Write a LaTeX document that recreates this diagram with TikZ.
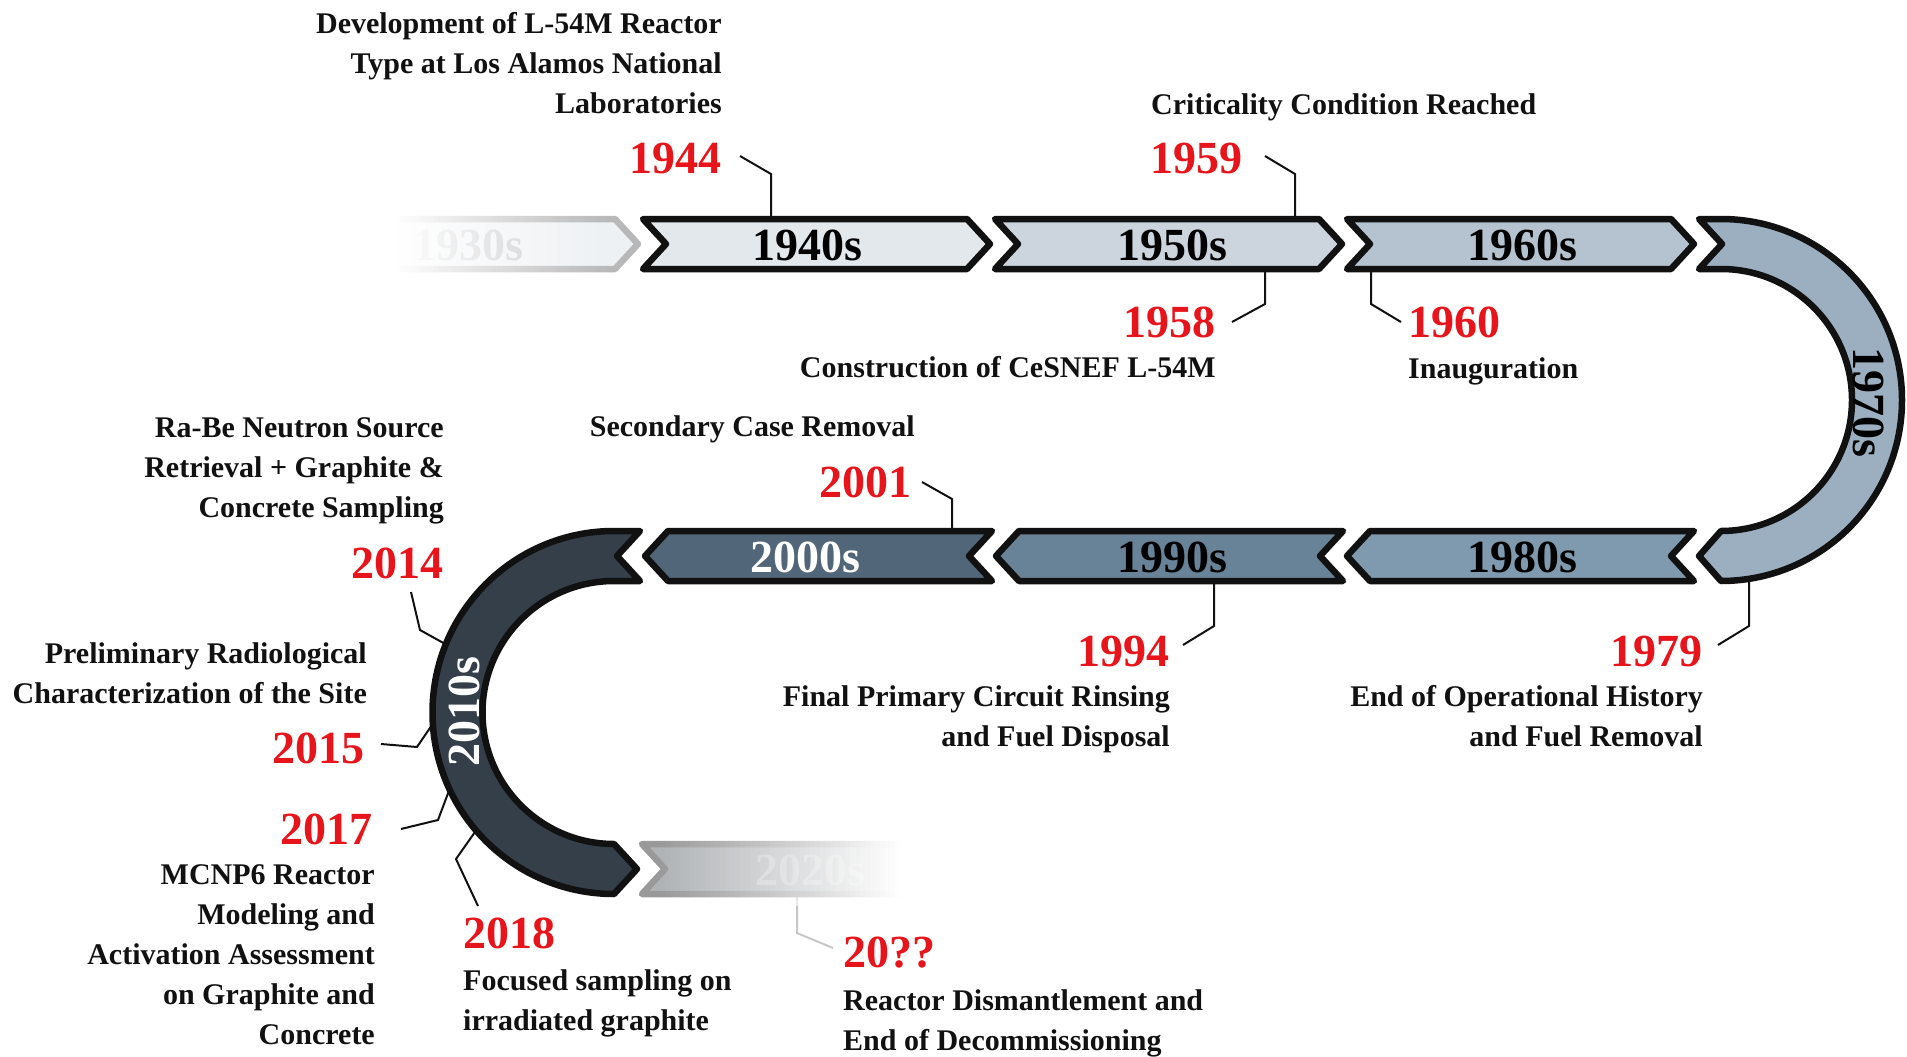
\documentclass[tikz,border=0pt]{standalone}
\usepackage{fontspec}
\setmainfont{Liberation Serif}
\definecolor{c30}{HTML}{EEF1F4}
\definecolor{c40}{HTML}{E3E8EC}
\definecolor{c50}{HTML}{CCD5DE}
\definecolor{c60}{HTML}{B4C3CF}
\definecolor{c70}{HTML}{9BAFC0}
\definecolor{c80}{HTML}{7F99AE}
\definecolor{c90}{HTML}{688398}
\definecolor{c00}{HTML}{516779}
\definecolor{c10}{HTML}{343F49}
\definecolor{c20}{HTML}{B0B3B6}
\definecolor{yr}{HTML}{E8141C}
\definecolor{ink}{HTML}{111111}
\newcommand\rchev[2]{({#1},{#2-25}) -- ({#1+324},{#2-25}) -- ({#1+347},{#2}) -- ({#1+324},{#2+25}) -- ({#1},{#2+25}) -- ({#1+23},{#2}) -- cycle}
\newcommand\lchev[2]{({#1},{#2}) -- ({#1+23},{#2-25}) -- ({#1+347},{#2-25}) -- ({#1+324},{#2}) -- ({#1+347},{#2+25}) -- ({#1+23},{#2+25}) -- cycle}
\tikzset{
  band/.style={draw=ink, line width=6.5pt, line join=round},
  lbl/.style={font=\fontsize{46}{46}\selectfont\bfseries, inner sep=0pt, anchor=base},
  yrs/.style={font=\fontsize{46}{46}\selectfont\bfseries, text=yr, inner sep=0pt},
  desc/.style={font=\fontsize{30}{40}\selectfont\bfseries, inner sep=0pt, text=ink},
  conn/.style={line width=2pt, ink},
}
\begin{document}
\begin{tikzpicture}[x=1pt,y=-1pt]
\useasboundingbox (0,0) rectangle (1907,1057);

% ---------- texts ----------
\node[desc, align=right, anchor=east] (dev) at (722,63) {Development of L-54M Reactor\\Type at Los Alamos National\\Laboratories};
\node[yrs, anchor=east] (y1944) at (722,158) {1944};
\node[desc, anchor=west] (crit) at (1151,107) {Criticality Condition Reached};
\node[yrs, anchor=east] (y1959) at (1243,158) {1959};
\node[yrs, anchor=east] (y1958) at (1216,322) {1958};
\node[desc, anchor=east] (cons) at (1216,367) {Construction of CeSNEF L-54M};
\node[yrs, anchor=west] (y1960) at (1408,322) {1960};
\node[desc, anchor=west] (inaug) at (1408,371) {Inauguration};
\node[desc, anchor=east] (sec) at (915,429) {Secondary Case Removal};
\node[yrs, anchor=east] (y2001) at (912,482) {2001};
\node[desc, align=right, anchor=east] (rabe) at (444,471) {Ra-Be Neutron Source\\Retrieval + Graphite \&\\Concrete Sampling};
\node[yrs, anchor=east] (y2014) at (444,563) {2014};
\node[desc, align=right, anchor=east] (prel) at (367,673) {Preliminary Radiological\\Characterization of the Site};
\node[yrs, anchor=east] (y2015) at (365,748) {2015};
\node[yrs, anchor=east] (y2017) at (373,829) {2017};
\node[desc, align=right, anchor=east] (mcnp) at (375,955) {MCNP6 Reactor\\Modeling and\\Activation Assessment\\on Graphite and\\Concrete};
\node[yrs, anchor=west] (y2018) at (463,933) {2018};
\node[desc, align=left, anchor=west] (focus) at (463,1003) {Focused sampling on\\irradiated graphite};
\node[yrs, anchor=west] (y20) at (843,953) {20??};
\node[desc, align=left, anchor=west] (dism) at (843,1023) {Reactor Dismantlement and\\End of Decommissioning};
\node[yrs, anchor=east] (y1994) at (1170,651) {1994};
\node[desc, align=right, anchor=east] (final) at (1170,719) {Final Primary Circuit Rinsing\\and Fuel Disposal};
\node[yrs, anchor=east] (y1979) at (1703,651) {1979};
\node[desc, align=right, anchor=east] (endop) at (1703,716) {End of Operational History\\and Fuel Removal};

% ---------- connector end points on the bands ----------
\coordinate (p1944) at (771,225);
\coordinate (p1959) at (1295,225);
\coordinate (p1958) at (1265,263);
\coordinate (p1960) at (1371,263);
\coordinate (p2001) at (952,537);
\coordinate (p1994) at (1214,575);
\coordinate (p1979) at (1749,572);
\coordinate (p2014) at (447,645);
\coordinate (p2015) at (434,722);
\coordinate (p2017) at (450,788);
\coordinate (p2018) at (475,832);
\coordinate (p2020) at (797,890);

% ---------- connectors ----------
\draw[conn] ([shift={(18,-2)}]y1944.east) -- ++(31,18) -- (p1944);
\draw[conn] ([shift={(22,-2)}]y1959.east) -- ++(30,18) -- (p1959);
\draw[conn] (p1958) -- (1265,304) -- ([shift={(16,0)}]y1958.east);
\draw[conn] (p1960) -- (1371,304) -- ([shift={(-7,0)}]y1960.west);
\draw[conn] ([shift={(10,0)}]y2001.east) -- ++(30,17) -- (p2001);
\draw[conn] (p1994) -- (1214,626) -- ([shift={(13,-6)}]y1994.east);
\draw[conn] (p1979) -- (1749,626) -- ([shift={(15,-6)}]y1979.east);
\draw[conn] ([shift={(-33,29)}]y2014.east) -- (420,630) -- (p2014);
\draw[conn] ([shift={(16,-4)}]y2015.east) -- (417,747) -- (p2015);
\draw[conn] ([shift={(28,0)}]y2017.east) -- (438,820) -- (p2017);
\draw[conn] ([shift={(15,-27)}]y2018.west) -- (456,859) -- (p2018);
\draw[line width=2pt, black!22] (p2020) -- (797,933) -- ([shift={(-10,-5)}]y20.west);

% ---------- faded 1930s ----------
\path[band, draw=black!28, fill=c30] \rchev{291}{244};
\node[lbl, text=black!22] (d30) at (468,260) {1930s};
\fill[white] (270,205) rectangle (395,283);
\foreach \i in {0,...,49} {
  \pgfmathsetmacro\op{1-(\i+0.5)/50}
  \fill[white, opacity=\op] ({395+4.3*\i},205) rectangle ({395+4.3*(\i+1)},283);
}

% ---------- top row ----------
\path[band, fill=c40] \rchev{643}{244};
\node[lbl] (d40) at (807,260) {1940s};
\path[band, fill=c50] \rchev{995}{244};
\node[lbl] (d50) at (1172,260) {1950s};
\path[band, fill=c60] \rchev{1347}{244};
\node[lbl] (d60) at (1522,260) {1960s};

% ---------- 1970s arc ----------
\path[band, fill=c70] (1699,219) -- (1721,219) arc[start angle=-90, end angle=90, radius=181]
  -- (1699,556) -- (1721,531) arc[start angle=90, end angle=-90, radius=131]
  -- (1699,269) -- (1722,244) -- cycle;
\node[font=\fontsize{46}{46}\selectfont\bfseries, inner sep=0pt, rotate=-90] (d70) at (1869,402) {1970s};

% ---------- middle row ----------
\path[band, fill=c80] \lchev{1347}{556};
\node[lbl] (d80) at (1522,572) {1980s};
\path[band, fill=c90] \lchev{996}{556};
\node[lbl] (d90) at (1172,572) {1990s};
\path[band, fill=c00] \lchev{645}{556};
\node[lbl, text=white] (d00) at (805,572) {2000s};

% ---------- 2010s arc ----------
\path[band, fill=c10] (640,531) -- (614,531) arc[start angle=-90, end angle=-270, radius=181.5]
  -- (637,869) -- (614,844) arc[start angle=90, end angle=270, radius=131.5]
  -- (640,581) -- (617,556) -- cycle;
\node[font=\fontsize{46}{46}\selectfont\bfseries, inner sep=0pt, rotate=90, text=white] (d10) at (464,712) {2010s};

% ---------- faded 2020s ----------
\path[band, draw=black!40, fill=c20] \rchev{642}{869};
\node[lbl, text=black!22] (d20) at (810,885) {2020s};
\foreach \i in {0,...,47} {
  \pgfmathsetmacro\op{(\i+0.5)/48}
  \fill[white, opacity=\op] ({660+5*\i},832) rectangle ({660+5*(\i+1)},906);
}
\fill[white] (900,832) rectangle (1000,906);
\end{tikzpicture}
\end{document}
